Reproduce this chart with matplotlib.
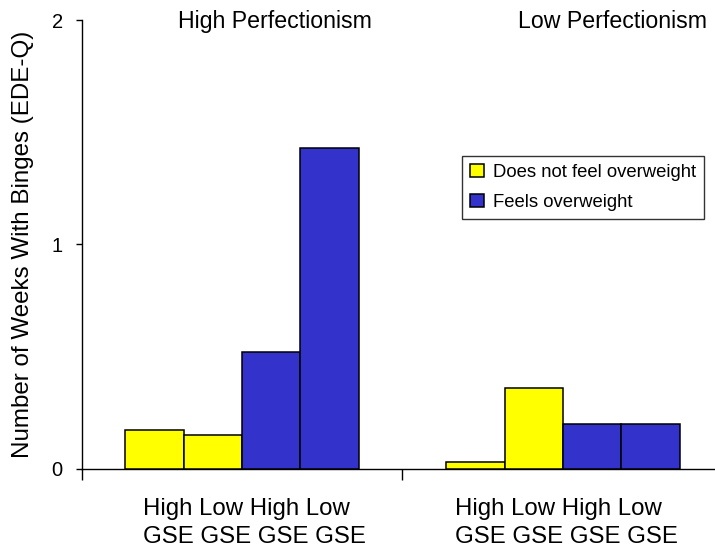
import matplotlib
matplotlib.use("Agg")
import matplotlib.pyplot as plt
import numpy as np

plt.rcParams['font.family'] = ['Liberation Sans', 'DejaVu Sans']

# Data
groups = ["High Perfectionism", "Low Perfectionism"]
group_ticklabels = ["High Low High Low\nGSE GSE GSE GSE", "High Low High Low\nGSE GSE GSE GSE"]
series_names = ["Does not feel overweight", "Feels overweight"]
not_overweight_high_gse = [0.17, 0.03]
not_overweight_low_gse = [0.15, 0.36]
overweight_high_gse = [0.52, 0.20]
overweight_low_gse = [1.43, 0.20]
y_ticks = [0, 1, 2]

yellow = "#FFFF00"
blue = "#3333CC"

fig = plt.figure(figsize=(7.15, 5.5), dpi=100)
ax = fig.add_axes([81.5 / 715, (550 - 468.5) / 550, 642 / 715, 448.5 / 550])

w = 0.1822
centers = np.arange(len(groups)) + 0.5
bar_sets = [
    (not_overweight_high_gse, yellow),
    (not_overweight_low_gse, yellow),
    (overweight_high_gse, blue),
    (overweight_low_gse, blue),
]
handles = []
for i, (vals, col) in enumerate(bar_sets):
    b = ax.bar(centers + (i - 1.5) * w, vals, width=w, color=col,
               edgecolor="black", linewidth=1.1, zorder=3)
    if i in (0, 2):
        handles.append(b)

ax.set_xlim(0, 2)
ax.set_ylim(0, 2)
ax.set_yticks(y_ticks)
ax.set_yticklabels([str(t) for t in y_ticks], fontsize=14.5)
ax.tick_params(axis="y", direction="out", length=4.5, width=1, pad=9)

ax.set_xticks([0, 1, 2])
ax.set_xticklabels(["", "", ""])
ax.tick_params(axis="x", which="major", direction="out", length=8, width=1)
# left-aligned two-line group labels
label_left = centers + np.array([-0.308, -0.336])
ax.set_xticks(label_left, minor=True)
ax.set_xticklabels(group_ticklabels, minor=True, fontsize=17.3, linespacing=1.33)
for lab in ax.get_xticklabels(minor=True):
    lab.set_horizontalalignment("left")
    lab.set_multialignment("left")
ax.tick_params(axis="x", which="minor", length=0, pad=21.5)

for s in ("top", "right"):
    ax.spines[s].set_visible(False)
for s in ("left", "bottom"):
    ax.spines[s].set_linewidth(1)

fig.text(23 / 715, 1 - 244 / 550, "Number of Weeks With Binges (EDE-Q)", fontsize=17.4,
         rotation=90, ha="center", va="center")

fig.text(178 / 715, 1 - 28 / 550, groups[0], fontsize=16.7, ha="left", va="baseline")
fig.text(518 / 715, 1 - 28 / 550, groups[1], fontsize=16.7, ha="left", va="baseline")

leg = ax.legend([handles[0], handles[1]], series_names, loc="upper left",
                bbox_to_anchor=(462 / 715, 1 - 156 / 550), bbox_transform=fig.transFigure,
                fontsize=13.3, frameon=True, fancybox=False, edgecolor="black",
                handlelength=0.72, handleheight=0.72, handletextpad=0.5,
                borderpad=0.45, labelspacing=0.68, borderaxespad=0)
leg.get_frame().set_linewidth(1)

fig.savefig("out.png", dpi=100)
